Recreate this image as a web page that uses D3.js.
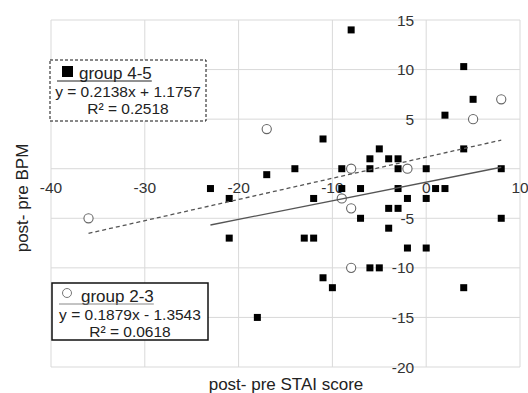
<!DOCTYPE html>
<meta charset="utf-8">
<title>post- pre STAI vs BPM</title>
<style>
  html, body { margin: 0; padding: 0; background: #fff; }
  svg { display: block; font-family: 'Liberation Sans', Arial, sans-serif; }
  .grid line { stroke: #d9d9d9; stroke-width: 1; }
  .tick-label { fill: #333; font-size: 15.5px; }
  .title { fill: #222; font-size: 17px; }
  .legend text { fill: #222; font-size: 15.5px; }
</style>
<svg id="chart"></svg>
<script src="https://cdn.jsdelivr.net/npm/d3@7"></script>
<script>
  'use strict'
  // group 4-5 (filled squares)
  const group45X = [-8, 4, 5, 2, -11, -5, 4, -6, -4, -3, -14, -9, -6, -3, -2, 0, 8, -17,
    -23, -9, -7, -3, 1, 2, -21, -12, -2, 0, -4, -3, -7, 8, -4, -21, -13, -12, -2, 0,
    -6, -5, -11, -10, 4, -18]
  const group45Y = [14, 10.3, 7, 5.4, 3, 2, 2, 1, 1, 1, 0, 0, 0, 0, 0, 0, 0, -0.6,
    -2, -2, -2, -2, -2, -2, -3, -3, -3, -3, -4, -4, -5, -5, -6, -7, -7, -7, -8, -8,
    -10, -10, -11, -12, -12, -15]
  // group 2-3 (open circles)
  const group23X = [-36, -17, -8, -9, -8, -8, -2, 5, 8]
  const group23Y = [-5, 4, 0, -3, -4, -10, 0, 5, 7]
  // trend lines: slope, intercept, x range
  const dashedFit = { m: 0.2138, b: 1.1757, from: -36, to: 8 }
  const solidFit = { m: 0.1879, b: -1.3543, from: -23, to: 8 }
  const xTicks = [-40, -30, -20, -10, 0, 10]
  const yTicks = [-20, -15, -10, -5, 0, 5, 10, 15]
  const legendLines45 = ['group 4-5', 'y = 0.2138x + 1.1757', 'R\u00b2 = 0.2518']
  const legendLines23 = ['group 2-3', 'y = 0.1879x - 1.3543', 'R\u00b2 = 0.0618']

  const W = 528, H = 393
  const margin = { top: 20, right: 8, bottom: 26, left: 51 }

  const svg = d3.select('#chart').attr('width', W).attr('height', H)

  const x = d3.scaleLinear().domain([-40, 10]).range([margin.left, W - margin.right])
  const y = d3.scaleLinear().domain([-20, 15]).range([H - margin.bottom, margin.top])

  // grid
  const grid = svg.append('g').attr('class', 'grid')
  grid.selectAll('.vx').data(xTicks).enter().append('line')
    .attr('x1', d => x(d)).attr('x2', d => x(d))
    .attr('y1', y(15)).attr('y2', y(-20))
  grid.selectAll('.hy').data(yTicks).enter().append('line')
    .attr('y1', d => y(d)).attr('y2', d => y(d))
    .attr('x1', x(-40)).attr('x2', x(10))

  // tick labels, placed along the axes that cross at 0
  svg.selectAll('.xl').data(xTicks).enter().append('text')
    .attr('class', 'tick-label')
    .attr('x', d => x(d)).attr('y', y(0) + 24)
    .attr('text-anchor', 'middle')
    .text(d => d)
  svg.selectAll('.yl').data(yTicks.filter(d => d !== 0)).enter().append('text')
    .attr('class', 'tick-label')
    .attr('x', x(0) - 12).attr('y', d => y(d))
    .attr('dy', '0.36em')
    .attr('text-anchor', 'end')
    .text(d => d)

  // points
  const sq = 7
  svg.append('g').selectAll('rect').data(d3.zip(group45X, group45Y)).enter().append('rect')
    .attr('x', d => x(d[0]) - sq / 2).attr('y', d => y(d[1]) - sq / 2)
    .attr('width', sq).attr('height', sq)
    .attr('fill', '#000')
  svg.append('g').selectAll('circle').data(d3.zip(group23X, group23Y)).enter().append('circle')
    .attr('cx', d => x(d[0])).attr('cy', d => y(d[1]))
    .attr('r', 4.6)
    .attr('fill', '#fff').attr('stroke', '#666').attr('stroke-width', 1.1)

  // trend lines
  function fitLine(f) {
    return svg.append('line')
      .attr('x1', x(f.from)).attr('y1', y(f.m * f.from + f.b))
      .attr('x2', x(f.to)).attr('y2', y(f.m * f.to + f.b))
      .attr('stroke', '#555').attr('stroke-width', 1.3)
  }
  fitLine(dashedFit).attr('stroke-dasharray', '4,3')
  fitLine(solidFit)

  // axis titles
  svg.append('text').attr('class', 'title')
    .attr('transform', `translate(28,198) rotate(-90)`)
    .attr('text-anchor', 'middle')
    .text('post- pre BPM')
  svg.append('text').attr('class', 'title')
    .attr('x', 286).attr('y', 390)
    .attr('text-anchor', 'middle')
    .text('post- pre STAI score')

  // legends
  function legend(lines, box, dashed, marker) {
    const g = svg.append('g').attr('class', 'legend')
    g.append('rect')
      .attr('x', box.x).attr('y', box.y).attr('width', box.w).attr('height', box.h)
      .attr('fill', '#fff').attr('stroke', '#111')
      .attr('stroke-width', dashed ? 1 : 1.5)
      .attr('stroke-dasharray', dashed ? '3,2' : null)
    const cx = box.x + box.w / 2
    const title = g.append('text')
      .attr('x', box.x + 29).attr('y', box.y + 19)
      .style('font-size', '17px')
      .text(lines[0])
    const tw = title.node().getComputedTextLength()
    g.append('line')
      .attr('x1', box.x + 7).attr('x2', box.x + 29 + tw)
      .attr('y1', box.y + 21).attr('y2', box.y + 21)
      .attr('stroke', marker === 'square' ? '#222' : '#888').attr('stroke-width', 1)
    if (marker === 'square') {
      g.append('rect').attr('x', box.x + 12).attr('y', box.y + 6)
        .attr('width', 11).attr('height', 11).attr('fill', '#000')
    } else {
      g.append('circle').attr('cx', box.x + 15).attr('cy', box.y + 10).attr('r', 4.5)
        .attr('fill', '#fff').attr('stroke', '#777')
    }
    g.append('text').attr('x', cx).attr('y', box.y + 37)
      .attr('text-anchor', 'middle').text(lines[1])
    g.append('text').attr('x', cx).attr('y', box.y + 54)
      .attr('text-anchor', 'middle').text(lines[2])
  }
  legend(legendLines45, { x: 50, y: 60, w: 156, h: 61 }, true, 'square')
  legend(legendLines23, { x: 52, y: 283, w: 156, h: 57 }, false, 'circle')
</script>
